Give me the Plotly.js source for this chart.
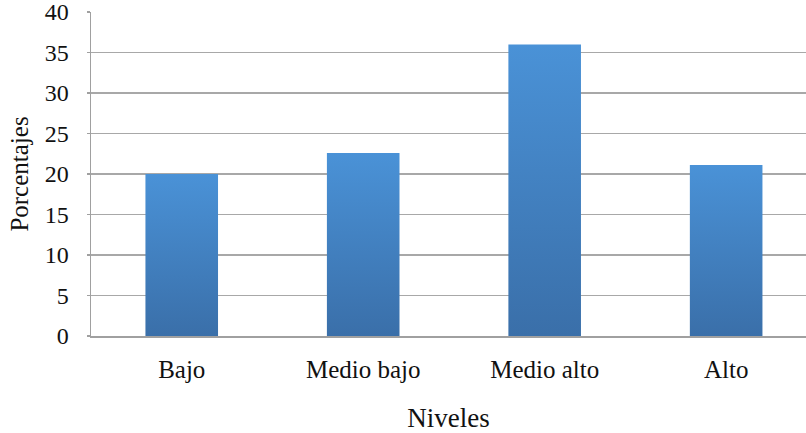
<!DOCTYPE html>
<html>
<head>
<meta charset="utf-8">
<script src="https://cdn.plot.ly/plotly-3.0.1.min.js"></script>
<style>
html,body{margin:0;padding:0;background:#fff;}
#chart{width:806px;height:433px;}
</style>
</head>
<body>
<div id="chart"></div>
<script>
const categories = ["Bajo", "Medio bajo", "Medio alto", "Alto"];
const values = [20.0, 22.6, 36.0, 21.1];
const yTicks = [0, 5, 10, 15, 20, 25, 30, 35, 40];

const font = "'Liberation Serif', 'Times New Roman', serif";

const trace = {
  type: "bar",
  x: categories,
  y: values,
  width: 0.4,
  marker: {color: "#4281c4", line: {width: 0}},
  hoverinfo: "x+y"
};

const layout = {
  width: 806,
  height: 433,
  margin: {l: 91, r: 0, t: 12, b: 97},
  paper_bgcolor: "#fff",
  plot_bgcolor: "#fff",
  showlegend: false,
  font: {family: font, color: "#111", size: 24},
  xaxis: {
    type: "category",
    range: [-0.5, 3.44],
    showgrid: false,
    showline: true,
    linecolor: "#a0a0a0",
    linewidth: 1.5,
    ticks: "",
    ticklabelstandoff: 10,
    tickfont: {family: font, size: 25, color: "#111"},
    title: {text: "Niveles", font: {family: font, size: 27, color: "#111"}, standoff: 26},
    zeroline: false,
    fixedrange: true
  },
  yaxis: {
    range: [0, 40],
    tickvals: yTicks,
    ticktext: yTicks.map(String),
    ticklabeloverflow: "allow",
    showgrid: true,
    gridcolor: "#a8a8a8",
    gridwidth: 1.5,
    showline: true,
    linecolor: "#a0a0a0",
    linewidth: 1.5,
    ticks: "outside",
    ticklen: 3,
    tickcolor: "#a0a0a0",
    tickwidth: 1.5,
    ticklabelstandoff: 13,
    tickfont: {family: font, size: 24, color: "#111"},
    title: {text: "Porcentajes", font: {family: font, size: 25, color: "#111"}, standoff: 9},
    zeroline: false,
    fixedrange: true
  }
};

function applyGradient() {
  const svg = document.querySelector("#chart svg.main-svg");
  if (!svg) return;
  let defs = svg.querySelector("defs");
  if (!defs) {
    defs = document.createElementNS("http://www.w3.org/2000/svg", "defs");
    svg.insertBefore(defs, svg.firstChild);
  }
  if (!document.getElementById("barGrad")) {
    const g = document.createElementNS("http://www.w3.org/2000/svg", "linearGradient");
    g.setAttribute("id", "barGrad");
    g.setAttribute("x1", "0"); g.setAttribute("y1", "0");
    g.setAttribute("x2", "0"); g.setAttribute("y2", "1");
    const s1 = document.createElementNS("http://www.w3.org/2000/svg", "stop");
    s1.setAttribute("offset", "0"); s1.setAttribute("stop-color", "#4a92d7");
    const s2 = document.createElementNS("http://www.w3.org/2000/svg", "stop");
    s2.setAttribute("offset", "1"); s2.setAttribute("stop-color", "#3a6fa9");
    g.appendChild(s1); g.appendChild(s2);
    defs.appendChild(g);
  }
  document.querySelectorAll("#chart .point path").forEach(p => {
    p.style.fill = "url(#barGrad)";
  });
}

Plotly.newPlot("chart", [trace], layout, {displayModeBar: false, staticPlot: true}).then(gd => {
  applyGradient();
  gd.on("plotly_afterplot", applyGradient);
});
</script>
</body>
</html>
